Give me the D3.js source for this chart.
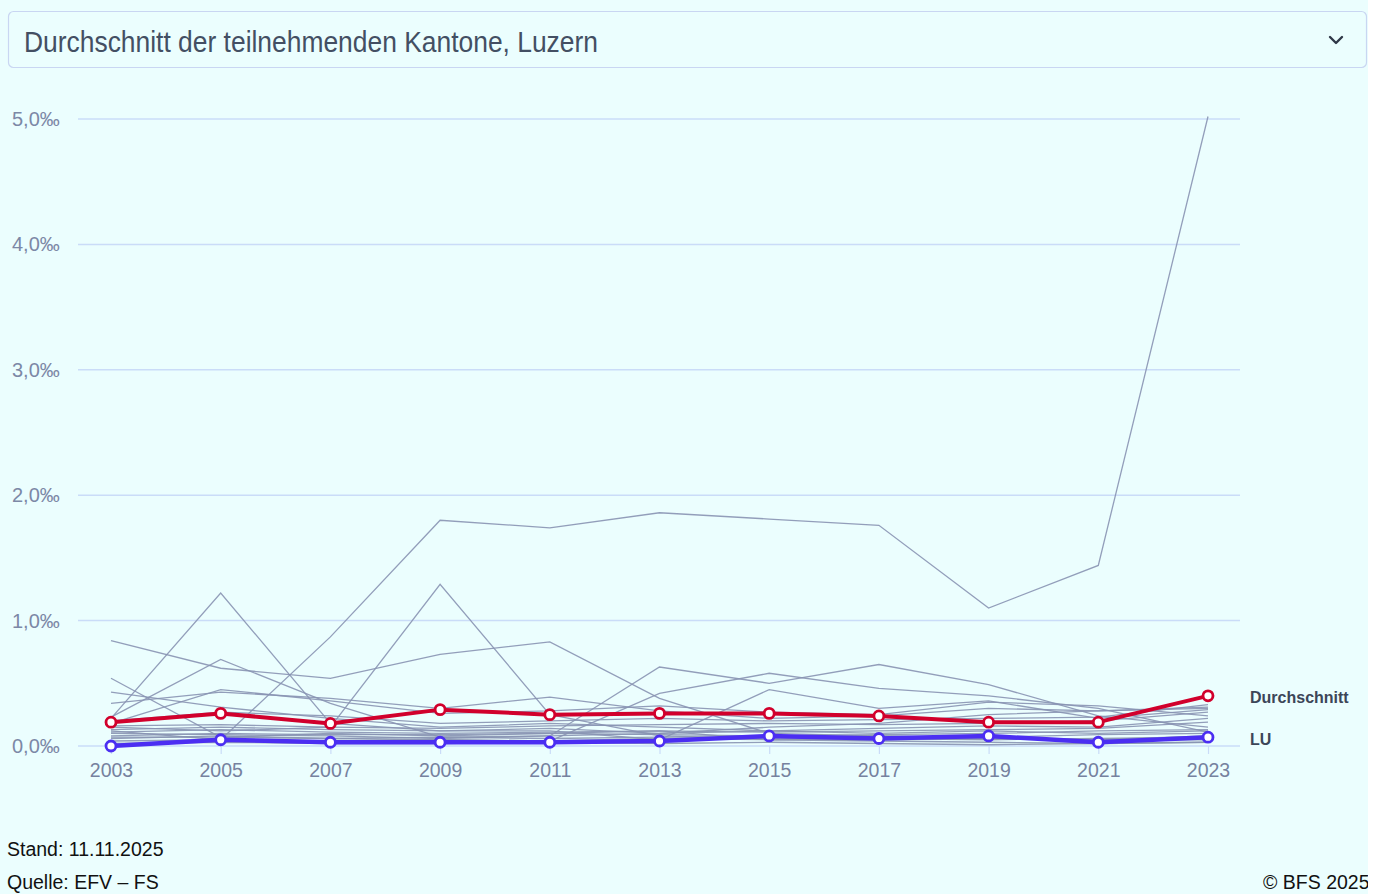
<!DOCTYPE html>
<html>
<head>
<meta charset="utf-8">
<style>
  html, body { margin: 0; padding: 0; background: #fff; }
  svg { display: block; font-family: "Liberation Sans", Arial, sans-serif; }
</style>
<title>Durchschnitt der teilnehmenden Kantone, Luzern</title>
</head>
<body>
<script src="https://cdn.jsdelivr.net/npm/d3@7"></script>
<script>
// years on the x axis
var years = [2003, 2005, 2007, 2009, 2011, 2013, 2015, 2017, 2019, 2021, 2023];
var yTicks = [0, 1, 2, 3, 4, 5];

// highlighted series
var avgValues = [0.19, 0.26, 0.18, 0.29, 0.25, 0.26, 0.26, 0.24, 0.19, 0.19, 0.40];
var luValues  = [0.00, 0.05, 0.03, 0.03, 0.03, 0.04, 0.08, 0.06, 0.08, 0.03, 0.07];

// the other cantons (grey background lines)
var cantonA = [0.12, 0.05, 0.87, 1.80, 1.74, 1.86, 1.81, 1.76, 1.10, 1.44, 5.02];
var cantonB = [0.22, 1.22, 0.18, 0.12, 0.14, 0.10, 0.12, 0.14, 0.16, 0.15, 0.22];
var cantonC = [0.15, 0.12, 0.15, 1.29, 0.25, 0.08, 0.06, 0.05, 0.06, 0.05, 0.08];
var cantonD = [0.84, 0.62, 0.54, 0.73, 0.83, 0.38, 0.10, 0.08, 0.06, 0.05, 0.05];
var cantonE = [0.54, 0.07, 0.10, 0.08, 0.10, 0.12, 0.05, 0.04, 0.03, 0.02, 0.03];
var cantonF = [0.43, 0.31, 0.22, 0.15, 0.18, 0.15, 0.12, 0.10, 0.12, 0.10, 0.12];
var cantonG = [0.34, 0.43, 0.38, 0.30, 0.39, 0.28, 0.22, 0.24, 0.30, 0.28, 0.31];
var cantonH = [0.23, 0.69, 0.34, 0.07, 0.08, 0.10, 0.15, 0.18, 0.25, 0.28, 0.30];
var cantonI = [0.10, 0.09, 0.08, 0.06, 0.08, 0.63, 0.50, 0.65, 0.49, 0.24, 0.15];
var cantonJ = [0.06, 0.08, 0.06, 0.05, 0.04, 0.42, 0.58, 0.46, 0.40, 0.30, 0.11];
var cantonK = [0.13, 0.15, 0.13, 0.12, 0.12, 0.05, 0.45, 0.30, 0.36, 0.22, 0.29];
var cantonL = [0.18, 0.45, 0.36, 0.26, 0.28, 0.32, 0.27, 0.25, 0.35, 0.32, 0.24];
var cantonM = [0.11, 0.13, 0.11, 0.10, 0.11, 0.12, 0.11, 0.12, 0.13, 0.14, 0.19];
var cantonN = [0.08, 0.10, 0.09, 0.09, 0.10, 0.09, 0.08, 0.09, 0.10, 0.12, 0.13];
var cantonO = [0.04, 0.05, 0.04, 0.05, 0.04, 0.06, 0.05, 0.06, 0.05, 0.06, 0.07];
var cantonP = [0.02, 0.03, 0.02, 0.02, 0.03, 0.02, 0.03, 0.02, 0.01, 0.02, 0.03];
var cantonQ = [0.16, 0.17, 0.15, 0.14, 0.16, 0.17, 0.18, 0.17, 0.18, 0.20, 0.27];
var cantonR = [0.07, 0.07, 0.06, 0.07, 0.06, 0.07, 0.07, 0.08, 0.07, 0.09, 0.10];
var cantonS = [0.20, 0.27, 0.24, 0.18, 0.20, 0.22, 0.20, 0.21, 0.22, 0.23, 0.33];

var cantons = [cantonA, cantonB, cantonC, cantonD, cantonE, cantonF, cantonG, cantonH, cantonI,
               cantonJ, cantonK, cantonL, cantonM, cantonN, cantonO, cantonP, cantonQ, cantonR, cantonS];

var W = 1379, H = 894;
var bg = "#ebfefe";

var svg = d3.select("body").append("svg").attr("width", W).attr("height", H);

// background (ends at 1368, white strip to the right)
svg.append("rect").attr("x", 0).attr("y", 0).attr("width", 1368).attr("height", H).attr("fill", bg);

// dropdown box
svg.append("rect").attr("x", 8.5).attr("y", 11.5).attr("width", 1358).attr("height", 56)
   .attr("rx", 5).attr("fill", bg).attr("stroke", "#c9d6f2").attr("stroke-width", 1.2);
svg.append("text").attr("x", 24).attr("y", 52).attr("font-size", 29).attr("fill", "#434f63")
   .attr("textLength", 574).attr("lengthAdjust", "spacingAndGlyphs")
   .text("Durchschnitt der teilnehmenden Kantone, Luzern");
svg.append("path").attr("d", "M1330,37 L1336,43 L1342,37")
   .attr("fill", "none").attr("stroke", "#2f3848").attr("stroke-width", 2.4)
   .attr("stroke-linecap", "round").attr("stroke-linejoin", "round");

// scales
var x = d3.scalePoint().domain(years).range([111, 1208]);
var y = d3.scaleLinear().domain([0, 5]).range([746, 119]);

// grid lines
svg.append("g").selectAll("line").data(yTicks).join("line")
   .attr("x1", 78).attr("x2", 1240)
   .attr("y1", function(d) { return y(d); }).attr("y2", function(d) { return y(d); })
   .attr("stroke", "#cadcf8").attr("stroke-width", 1.5);

// y labels
svg.append("g").selectAll("text").data(yTicks).join("text")
   .attr("x", 12).attr("y", function(d) { return y(d) + 7; })
   .attr("font-size", 20).attr("fill", "#7c88a6")
   .text(function(d) { return d3.format(".1f")(d).replace(".", ",") + "‰"; });

// x axis ticks + labels
var xAxis = svg.append("g").attr("transform", "translate(0,746)")
   .call(d3.axisBottom(x).tickSize(8).tickPadding(0));
xAxis.select(".domain").remove();
xAxis.selectAll(".tick line").attr("stroke", "#cadcf8").attr("stroke-width", 1.2);
xAxis.selectAll(".tick text").attr("font-size", 19.5).attr("fill", "#76829f")
   .attr("font-family", "'Liberation Sans', Arial, sans-serif")
   .attr("dy", null).attr("y", 31);

var line = d3.line().x(function(d, i) { return x(years[i]); }).y(function(d) { return y(d); });

// grey canton lines
svg.append("g").selectAll("path").data(cantons).join("path")
   .attr("d", line).attr("fill", "none")
   .attr("stroke", "#8893b2").attr("stroke-width", 1.3).attr("stroke-opacity", 0.9);

// highlighted series
function drawSeries(vals, color, w) {
  svg.append("path").datum(vals).attr("d", line).attr("fill", "none")
     .attr("stroke", color).attr("stroke-width", w).attr("stroke-linejoin", "round");
  svg.append("g").selectAll("circle").data(vals).join("circle")
     .attr("cx", function(d, i) { return x(years[i]); })
     .attr("cy", function(d) { return y(d); })
     .attr("r", 5).attr("fill", "#fff").attr("stroke", color).attr("stroke-width", 2.8);
}
drawSeries(luValues, "#4b2ef2", 4.5);
drawSeries(avgValues, "#d1002c", 4);

// end labels
svg.append("text").attr("x", 1250).attr("y", 703)
   .attr("font-size", 16).attr("font-weight", "bold").attr("fill", "#3c4658").text("Durchschnitt");
svg.append("text").attr("x", 1250).attr("y", 745)
   .attr("font-size", 16).attr("font-weight", "bold").attr("fill", "#3c4658").text("LU");

// footer
svg.append("text").attr("x", 7).attr("y", 856).attr("font-size", 19.5).attr("fill", "#111").text("Stand: 11.11.2025");
svg.append("text").attr("x", 7).attr("y", 889).attr("font-size", 19.5).attr("fill", "#111").text("Quelle: EFV – FS");
svg.append("defs").append("clipPath").attr("id", "clipR")
   .append("rect").attr("x", 0).attr("y", 0).attr("width", 1368).attr("height", H);
svg.append("text").attr("x", 1263).attr("y", 889).attr("font-size", 19.5).attr("fill", "#111")
   .attr("clip-path", "url(#clipR)").text("© BFS 2025");
</script>
</body>
</html>
